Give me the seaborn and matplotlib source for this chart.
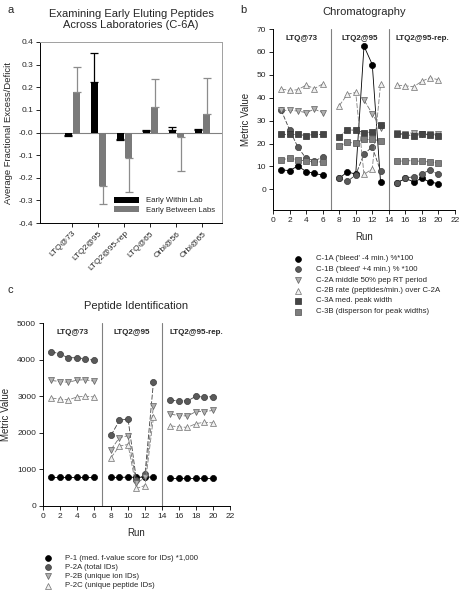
import numpy as np
import pandas as pd
import seaborn as sns
import matplotlib
matplotlib.use("Agg")
import matplotlib.pyplot as plt

# ---- panel a data ----
labs = ["LTQ@73", "LTQ2@95", "LTQ2@95-rep", "LTQ@65", "Orbi@56", "Orbi@65"]
within_lab = [-0.010, 0.225, -0.028, 0.005, 0.012, 0.010]
within_err = [0.005, 0.127, 0.007, 0.007, 0.013, 0.007]
between_labs = [0.180, -0.237, -0.113, 0.112, -0.018, 0.083]
between_err = [0.110, 0.079, 0.152, 0.123, 0.152, 0.159]

# ---- panel b/c runs ----
runs = [1, 2, 3, 4, 5, 6, 8, 9, 10, 11, 12, 13, 15, 16, 17, 18, 19, 20]
groups = ["LTQ@73", "LTQ2@95", "LTQ2@95-rep."]

# chromatography metrics
c1a = [8.5, 8.2, 10.2, 7.8, 7.0, 6.2, 4.8, 7.7, 6.6, 62.5, 54.5, 3.3, 2.8, 4.8, 3.3, 4.8, 3.2, 2.5]
c1b = [34.5, 26.0, 18.5, 13.5, 12.5, 14.0, 4.8, 3.5, 6.3, 15.5, 18.5, 8.0, 3.0, 5.0, 5.5, 6.8, 8.5, 6.5]
c2a = [34.5, 34.5, 34.2, 33.5, 35.0, 33.5, np.nan, np.nan, np.nan, 39.0, 33.0, 27.0,
       24.5, 24.2, 24.8, 24.3, 24.0, 24.2]
c2b = [43.8, 43.2, 43.5, 45.5, 44.0, 46.0, 36.5, 41.5, 42.3, 6.5, 9.0, 45.8, 45.5, 45.2, 44.8, 47.2, 48.8, 47.8]
c3a = [24.0, 24.0, 24.0, 23.5, 24.0, 24.0, 23.0, 26.0, 25.8, 24.8, 25.0, 28.2, 24.2, 23.8, 23.5, 24.0, 23.8, 23.5]
c3b = [13.0, 13.5, 13.0, 12.3, 12.0, 12.0, 19.0, 20.5, 20.2, 21.8, 21.8, 21.2, 12.2, 12.5, 12.5, 12.2, 12.0, 11.5]

# peptide identification metrics
p1 = [780, 780, 780, 780, 780, 780, 780, 780, 790, 780, 790, 790, 770, 770, 770, 770, 770, 770]
p2a = [4220, 4150, 4050, 4050, 4020, 3980, 1930, 2340, 2380, 700, 870, 3400, 2890, 2870, 2870, 3000, 2970, 2990]
p2b = [3430, 3400, 3380, 3440, 3450, 3410, 1540, 1870, 1920, 620, 780, 2740, 2510, 2470, 2460, 2580, 2580, 2610]
p2c = [2950, 2920, 2900, 2980, 3000, 2980, 1320, 1640, 1680, 480, 560, 2430, 2190, 2160, 2150, 2250, 2290, 2270]

chrom_labels = ["C-1A ('bleed' -4 min.) %*100", "C-1B ('bleed' +4 min.) % *100",
                "C-2A middle 50% pep RT period", "C-2B rate (peptides/min.) over C-2A",
                "C-3A med. peak width", "C-3B (disperson for peak widths)"]
pep_labels = ["P-1 (med. f-value score for IDs) *1,000", "P-2A (total IDs)",
              "P-2B (unique ion IDs)", "P-2C (unique peptide IDs)"]

sns.set_theme(style="white")
plt.rcParams["font.family"] = ["Liberation Sans", "DejaVu Sans"]

W, H = 460, 595
fig = plt.figure(figsize=(W / 100, H / 100), dpi=100)


def px_axes(x0, y0, x1, y1):
    return fig.add_axes([x0 / W, 1 - y1 / H, (x1 - x0) / W, (y1 - y0) / H])


# ================= panel a =================
ax = px_axes(40, 42, 222, 223)
df_a = pd.DataFrame({
    "lab": labs * 2,
    "value": within_lab + between_labs,
    "kind": ["Early Within Lab"] * 6 + ["Early Between Labs"] * 6,
})
sns.barplot(data=df_a, x="lab", y="value", hue="kind", palette=["black", "#7a7a7a"],
            errorbar=None, width=0.62, gap=0.08, saturation=1, ax=ax,
            edgecolor="none")
for cont, vals, errs, col in zip(ax.containers, [within_lab, between_labs],
                                 [within_err, between_err], ["black", "#8c8c8c"]):
    for bar, v, e in zip(cont, vals, errs):
        cx = bar.get_x() + bar.get_width() / 2
        lo, hi = ([0], [e]) if v >= 0 else ([e], [0])
        ax.errorbar(cx, v, yerr=[lo, hi], fmt="none", ecolor=col, elinewidth=0.9,
                    capsize=3, capthick=0.9)
ax.axhline(0, color="#808080", lw=0.8, zorder=0)
ax.set_ylim(-0.4, 0.4)
ax.set_xlim(-1.25, 5.75)
ax.set_yticks(np.arange(-0.4, 0.41, 0.1))
ax.set_yticklabels([f"{t:.1f}" for t in np.arange(-0.4, 0.41, 0.1)], fontsize=6)
ax.set_xticks(range(6))
ax.set_xticklabels(labs, rotation=45, ha="right", rotation_mode="anchor", fontsize=6)
ax.set_xlabel("")
ax.set_ylabel("Average Fractional Excess/Deficit", fontsize=6.8, labelpad=4)
ax.set_title("Examining Early Eluting Peptides\nAcross Laboratories (C-6A)",
             fontsize=8, pad=10, linespacing=1.1)
ax.tick_params(axis="both", length=3, width=0.6, pad=2, direction="out", color="black")
ax.tick_params(axis="both", which="both", bottom=True, left=True)
for s in ["left", "bottom"]:
    ax.spines[s].set_color("black")
    ax.spines[s].set_linewidth(0.7)
for s in ["top", "right"]:
    ax.spines[s].set_color("#a0a0a0")
    ax.spines[s].set_linewidth(0.7)
ax.legend(loc="lower right", bbox_to_anchor=(0.99, 0.02), fontsize=5.6, frameon=False,
          handlelength=3.2, handleheight=0.9, labelspacing=0.2, borderaxespad=0.3)


# ================= panels b & c =================
def run_panel(ax, series, ylim, yticks, title):
    df = pd.DataFrame({"run": runs, "group": [g for g in groups for _ in range(6)]})
    for (vals, marker, face, edge, line, ls) in series:
        d = df.assign(val=vals)
        for g in groups:
            sub = d[d["group"] == g]
            sns.lineplot(data=sub, x="run", y="val", ax=ax, color=line, lw=0.6,
                         linestyle=ls, marker=marker, markersize=4.4,
                         markerfacecolor=face, markeredgecolor=edge, markeredgewidth=0.5,
                         legend=False, zorder=3)
    for xv in (7, 14):
        ax.axvline(xv, color="#808080", lw=0.8, zorder=1)
    ax.set_xlim(0, 22)
    ax.set_ylim(*ylim)
    ax.set_xticks(range(0, 23, 2))
    ax.set_xticklabels([str(t) for t in range(0, 23, 2)], fontsize=6)
    ax.set_yticks(yticks)
    ax.set_yticklabels([str(t) for t in yticks], fontsize=6)
    ax.set_xlabel("Run", fontsize=7, labelpad=6)
    ax.set_ylabel("Metric Value", fontsize=7, labelpad=4)
    ax.set_title(title, fontsize=8, pad=10)
    ax.tick_params(axis="both", length=3, width=0.6, pad=2, direction="out",
                   bottom=True, left=True, color="black")
    for s in ["top", "right"]:
        ax.spines[s].set_visible(False)
    for s in ["left", "bottom"]:
        ax.spines[s].set_color("black")
        ax.spines[s].set_linewidth(0.7)
    ytop = ylim[1]
    for cx, g in zip((3.5, 10.5, 18), groups):
        ax.text(cx, ytop - (ylim[1] - ylim[0]) * 0.035, g, ha="center", va="top",
                fontsize=5.8, fontweight="bold")


def legend_rows(x_marker, x_text, y_first, step, items):
    for i, (label, marker, face, edge) in enumerate(items):
        y = y_first + i * step
        fig.lines.append(plt.Line2D([x_marker / W], [1 - y / H], marker=marker, ls="none",
                                    markersize=4.2, markerfacecolor=face,
                                    markeredgecolor=edge, markeredgewidth=0.5,
                                    transform=fig.transFigure, figure=fig))
        fig.text(x_text / W, 1 - y / H, label, fontsize=5.6, va="center", ha="left")


chrom_series = [
    (c1a, "o", "black", "black", "black", "-"),
    (c1b, "o", "#5a5a5a", "#3a3a3a", "#404040", (0, (5, 2))),
    (c2a, "v", "#b0b0b0", "#606060", "#707070", (0, (6, 2))),
    (c2b, "^", "#f0f0f0", "#707070", "#808080", (0, (6, 2))),
    (c3a, "s", "#454545", "#303030", "#404040", (0, (2, 1.5))),
    (c3b, "s", "#7d7d7d", "#505050", "#606060", (0, (2, 1.5))),
]
axb = px_axes(273, 29, 455, 210)
run_panel(axb, chrom_series, (-9, 70), list(range(0, 71, 10)), "Chromatography")
legend_rows(298, 316, 259, 10.5,
            [(lab, s[1], s[2], s[3]) for lab, s in zip(chrom_labels, chrom_series)])

pep_series = [
    (p1, "o", "black", "black", "black", "-"),
    (p2a, "o", "#5a5a5a", "#3a3a3a", "#404040", (0, (6, 2))),
    (p2b, "v", "#b0b0b0", "#606060", "#707070", (0, (6, 2))),
    (p2c, "^", "#f0f0f0", "#707070", "#808080", (0, (6, 2))),
]
axc = px_axes(43, 323, 230, 506)
run_panel(axc, pep_series, (0, 5000), list(range(0, 5001, 1000)), "Peptide Identification")
legend_rows(48, 65, 558, 9.2,
            [(lab, s[1], s[2], s[3]) for lab, s in zip(pep_labels, pep_series)])

# panel letters
fig.text(8 / W, 1 - 10 / H, "a", fontsize=8, va="center")
fig.text(240 / W, 1 - 10 / H, "b", fontsize=8, va="center")
fig.text(8 / W, 1 - 290 / H, "c", fontsize=8, va="center")

fig.savefig("out.png", dpi=100)
